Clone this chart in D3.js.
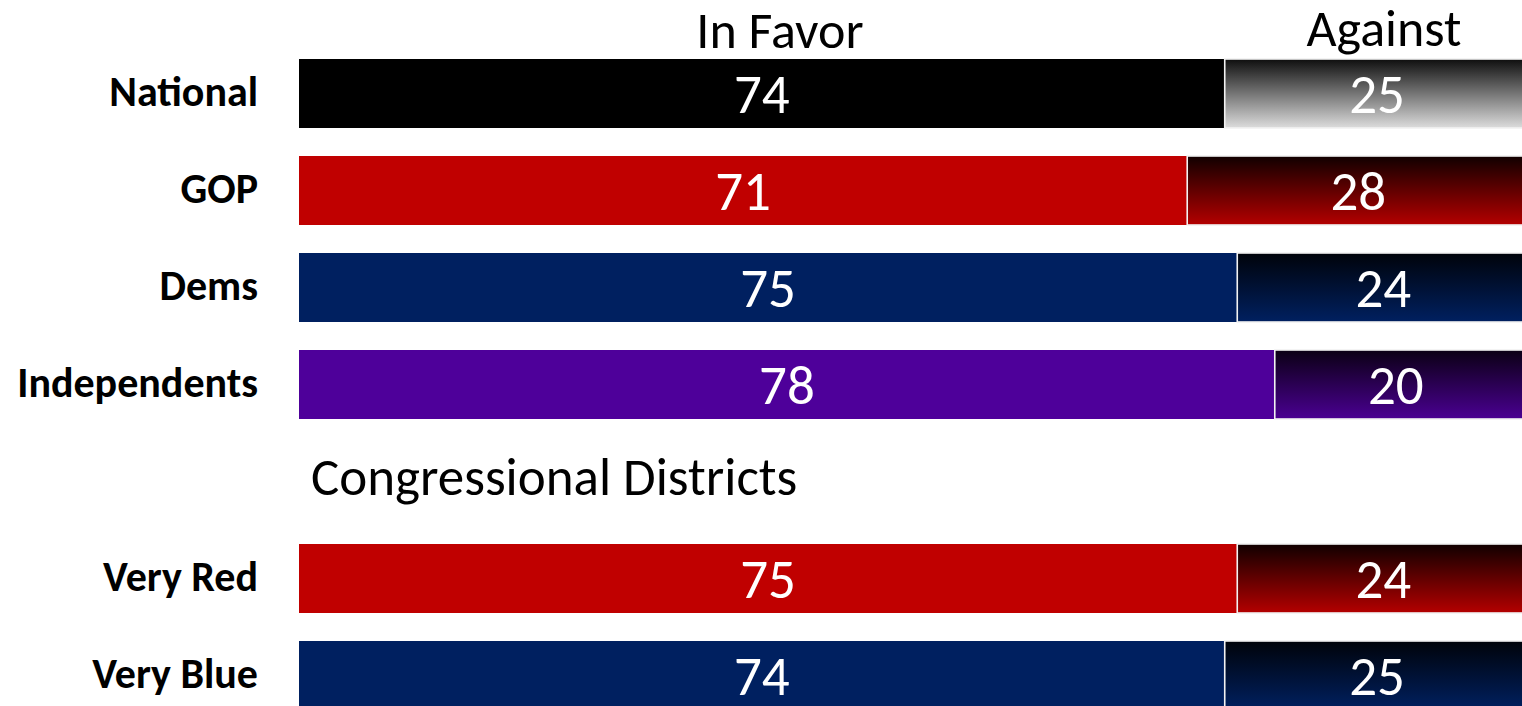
<!DOCTYPE html>
<html>
<head>
<meta charset="utf-8">
<script src="https://cdn.jsdelivr.net/npm/d3@7"></script>
<style>
  html, body { margin: 0; padding: 0; background: #fff; overflow: hidden; }
  svg { display: block; }
  text { font-family: Calibri, Carlito, Lato, sans-serif; }
</style>
</head>
<body>
<svg id="chart" width="1522" height="706"></svg>
<script>
// Row keys in display order; "districts" is the spacer row holding the section title
const rows      = ["National", "GOP", "Dems", "Independents", "districts", "Very Red", "Very Blue"];
const groups    = ["National", "GOP", "Dems", "Independents", "Very Red", "Very Blue"];
const inFavor   = [74, 71, 75, 78, 75, 74];
const against   = [25, 28, 24, 20, 24, 25];
const sectionTitle = "Congressional Districts";
const headers   = ["In Favor", "Against"];

// Solid colour of each "In Favor" bar and the two ends of each "Against" gradient
const solid     = ["#000000", "#C00000", "#002060", "#4E009A", "#C00000", "#002060"];
const gradTop   = ["#0e0e0e", "#100000", "#00030a", "#0b0014", "#100000", "#00030a"];
const gradBot   = ["#dcdcdc", "#b40000", "#002060", "#4a0092", "#b40000", "#002060"];

const svg = d3.select("#chart");

const x = d3.scaleLinear().domain([0, 100]).range([299, 1550]);
const y = d3.scaleBand().domain(rows).range([59, 710]).paddingInner(0.2887).paddingOuter(0);

const data = groups.map((g, i) => ({
  key: g, favor: inFavor[i], against: against[i],
  color: solid[i], top: gradTop[i], bot: gradBot[i], id: "grad" + i
}));

// Vertical gradients for the "Against" segments: dark at the top, colour at the bottom
const defs = svg.append("defs");
data.forEach(d => {
  const lg = defs.append("linearGradient").attr("id", d.id)
    .attr("x1", 0).attr("y1", 0).attr("x2", 0).attr("y2", 1);
  lg.append("stop").attr("offset", "0%").attr("stop-color", d.top);
  lg.append("stop").attr("offset", "100%").attr("stop-color", d.bot);
});

const row = svg.selectAll("g.row").data(data).join("g").attr("class", "row");
const mid = d => y(d.key) + y.bandwidth() / 2;

// In Favor segments
row.append("rect")
  .attr("x", x(0))
  .attr("y", d => y(d.key))
  .attr("width", d => x(d.favor) - x(0))
  .attr("height", y.bandwidth())
  .attr("fill", d => d.color);

// Against segments
row.append("rect")
  .attr("x", d => x(d.favor))
  .attr("y", d => y(d.key))
  .attr("width", d => x(d.favor + d.against) - x(d.favor))
  .attr("height", y.bandwidth())
  .attr("fill", d => `url(#${d.id})`)
  .attr("stroke", "#f2f2f2")
  .attr("stroke-width", 1.6);

const valueSize = 55;
// Value labels, centred in each segment
row.append("text")
  .attr("x", d => (x(0) + x(d.favor)) / 2)
  .attr("y", d => mid(d) + valueSize * 0.35)
  .attr("text-anchor", "middle")
  .attr("fill", "#fff")
  .attr("font-size", valueSize)
  .text(d => d.favor);

row.append("text")
  .attr("x", d => (x(d.favor) + x(d.favor + d.against)) / 2 - 4)
  .attr("y", d => mid(d) + valueSize * 0.35)
  .attr("text-anchor", "middle")
  .attr("fill", "#fff")
  .attr("font-size", valueSize)
  .text(d => d.against);

// Row labels
const labelSize = 42;
row.append("text")
  .attr("x", 258)
  .attr("y", d => mid(d) + labelSize * 0.3)
  .attr("text-anchor", "end")
  .attr("font-weight", "bold")
  .attr("font-size", labelSize)
  .attr("fill", "#000")
  .text(d => d.key);

// Column headers
const headSize = 52;
svg.append("text")
  .attr("x", 780).attr("y", 48)
  .attr("text-anchor", "middle")
  .attr("font-size", headSize)
  .text(headers[0]);
svg.append("text")
  .attr("x", 1384).attr("y", 46)
  .attr("text-anchor", "middle")
  .attr("font-size", headSize)
  .text(headers[1]);

// Section title in the spacer row
const titleSize = 53;
svg.append("text")
  .attr("x", 311)
  .attr("y", y("districts") + y.bandwidth() / 2 + 13.5)
  .attr("font-size", titleSize)
  .text(sectionTitle);
</script>
</body>
</html>
